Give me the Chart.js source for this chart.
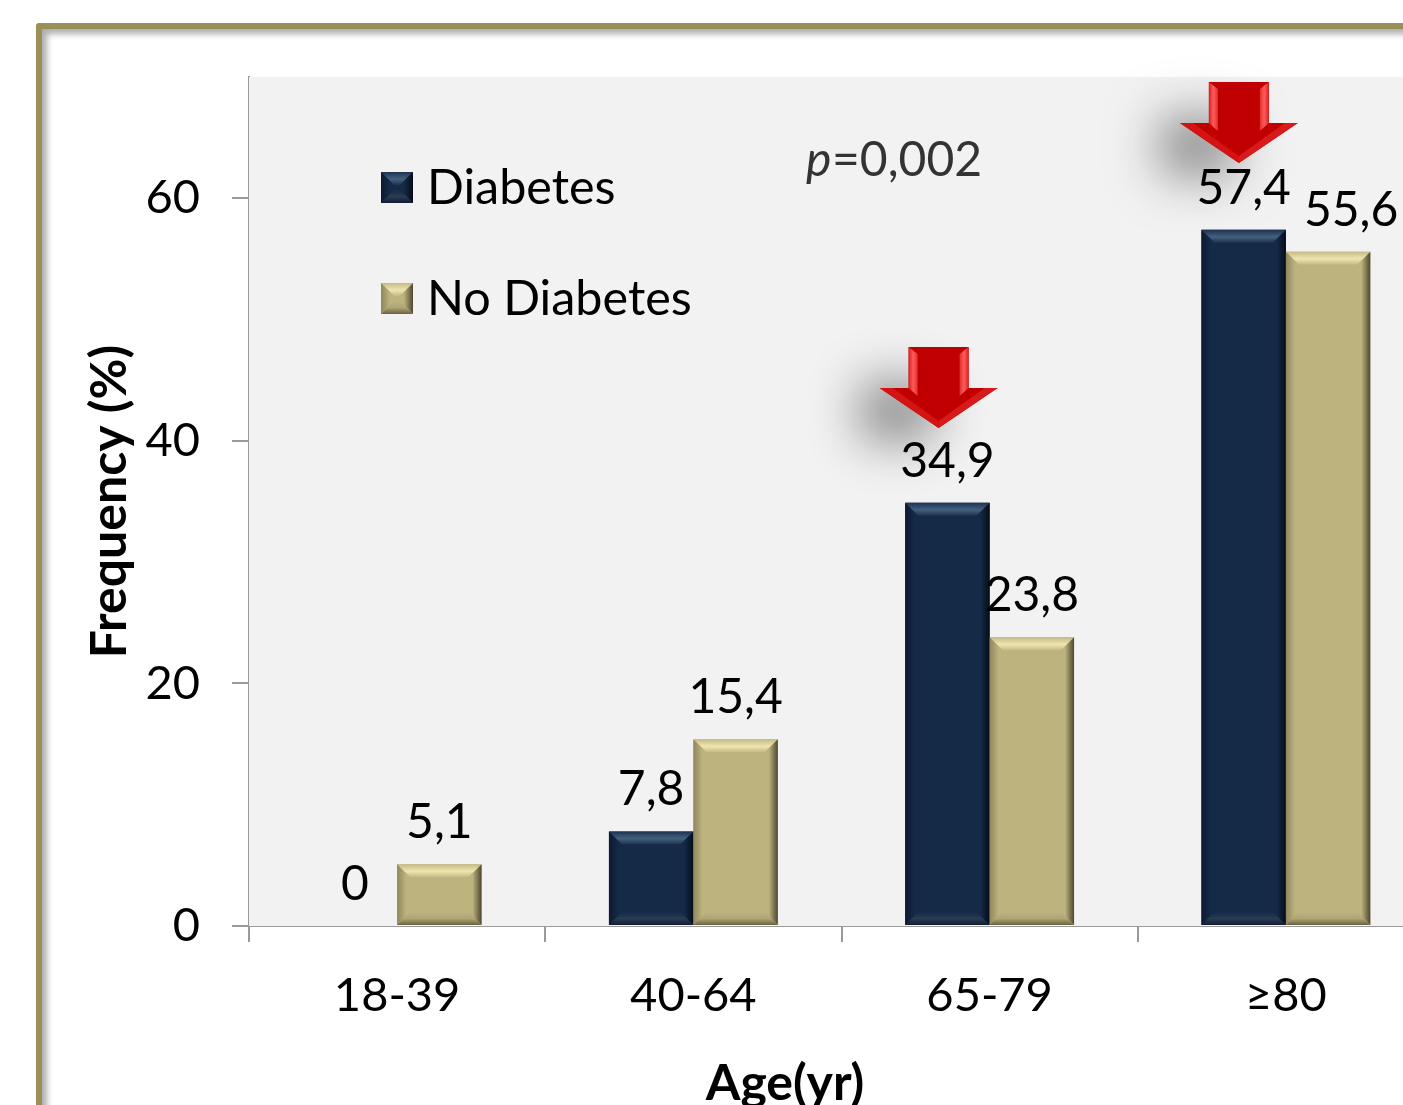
<!DOCTYPE html>
<html>
<head>
<meta charset="utf-8">
<script src="https://cdn.jsdelivr.net/npm/chart.js@4"></script>
<style>
  html, body { margin: 0; padding: 0; background: #fff; overflow: hidden; height: 100%; }
  #frame {
    position: absolute; left: 36px; top: 23px; width: 1500px; height: 1300px;
    border: 6px solid #9a8f57; border-radius: 3px; background: #fff;
    box-shadow: inset 7px 7px 6px -2px rgba(0,0,0,.32);
  }
  #myChart { position: absolute; left: 0; top: 0; }
</style>
</head>
<body>
<div id="frame"></div>
<canvas id="myChart" width="1500" height="1105"></canvas>
<script>
var ageGroups = ['18-39', '40-64', '65-79', '≥80'];
var diabetes = [0, 7.8, 34.9, 57.4];
var noDiabetes = [5.1, 15.4, 23.8, 55.6];
var yTicks = [0, 20, 40, 60];

// red arrows: which group they sit over and the value their tip points at
var arrowGroups = ['65-79', '≥80'];
var arrowTips = [41.05, 62.9];
var arrowShift = [-51, -47];

var pValue = '=0,002';
var FONT = 'Lato';

var navy = { base: '#152a47', top: '#44607f', topEdge: '#1c3350', left: '#0c1a2e', right: '#050c18', bottom: '#2a3b52', bottomEdge: '#101e33' };
var tan = { base: '#bdb37f', top: '#eee5ae', topEdge: '#c4ba88', left: '#8f875c', right: '#4d4830', bottom: '#b0a674', bottomEdge: '#6a6343' };

function poly(ctx, pts, fill) {
  ctx.beginPath();
  ctx.moveTo(pts[0][0], pts[0][1]);
  for (var i = 1; i < pts.length; i++) ctx.lineTo(pts[i][0], pts[i][1]);
  ctx.closePath();
  ctx.fillStyle = fill;
  ctx.fill();
}

// four sloped facets round a flat face
function bevel(ctx, x, y, w, h, b, c) {
  var bb = Math.min(b, h / 2);
  var g;
  g = ctx.createLinearGradient(0, y, 0, y + bb);
  g.addColorStop(0, c.topEdge); g.addColorStop(0.55, c.top); g.addColorStop(1, c.topEdge);
  poly(ctx, [[x, y], [x + w, y], [x + w - bb, y + bb], [x + bb, y + bb]], g);
  g = ctx.createLinearGradient(x, 0, x + bb, 0);
  g.addColorStop(0, c.left); g.addColorStop(0.7, c.base);
  poly(ctx, [[x, y], [x + bb, y + bb], [x + bb, y + h - bb], [x, y + h]], g);
  g = ctx.createLinearGradient(x + w, 0, x + w - bb, 0);
  g.addColorStop(0, c.right); g.addColorStop(0.7, c.base);
  poly(ctx, [[x + w, y], [x + w - bb, y + bb], [x + w - bb, y + h - bb], [x + w, y + h]], g);
  g = ctx.createLinearGradient(0, y + h, 0, y + h - bb);
  g.addColorStop(0, c.bottomEdge); g.addColorStop(0.5, c.bottom); g.addColorStop(1, c.base);
  poly(ctx, [[x, y + h], [x + w, y + h], [x + w - bb, y + h - bb], [x + bb, y + h - bb]], g);
}

function drawArrow(ctx, tx, ty) {
  var shape = [[-30, -81], [30, -81], [30, -40], [59, -40], [0, 0], [-59, -40], [-30, -40]];
  var pts = shape.map(function (p) { return [tx + p[0], ty + p[1]]; });
  ctx.save();
  // soft shadow falling to the left; the caster itself stays off the canvas
  ctx.shadowColor = 'rgba(0,0,0,0.45)';
  ctx.shadowBlur = 50;
  ctx.shadowOffsetX = 3000;
  poly(ctx, [[tx - 3078, ty - 46], [tx - 3005, ty - 46], [tx - 3005, ty + 12], [tx - 3078, ty + 12]], '#000');
  ctx.restore();
  poly(ctx, pts, '#c00000');
  // lit edges of the shaft and the head
  var g = ctx.createLinearGradient(tx - 30, 0, tx - 21, 0);
  g.addColorStop(0, '#d82020'); g.addColorStop(0.5, '#ff5a5a'); g.addColorStop(1, '#e03030');
  poly(ctx, [[tx - 30, ty - 81], [tx - 21, ty - 74], [tx - 21, ty - 32], [tx - 30, ty - 40]], g);
  g = ctx.createLinearGradient(tx + 30, 0, tx + 21, 0);
  g.addColorStop(0, '#d82020'); g.addColorStop(0.5, '#ff5a5a'); g.addColorStop(1, '#e03030');
  poly(ctx, [[tx + 30, ty - 81], [tx + 21, ty - 74], [tx + 21, ty - 32], [tx + 30, ty - 40]], g);
  poly(ctx, [[tx - 59, ty - 40], [tx, ty], [tx, ty - 7], [tx - 46, ty - 40]], '#d41414');
  poly(ctx, [[tx + 59, ty - 40], [tx, ty], [tx, ty - 7], [tx + 46, ty - 40]], '#d81a1a');
}

var decorPlugin = {
  id: 'decor',
  beforeDatasetsDraw: function (chart) {
    var a = chart.chartArea, ctx = chart.ctx;
    ctx.save();
    ctx.fillStyle = '#f2f2f2';
    ctx.fillRect(a.left, a.top, a.right - a.left, a.bottom - a.top);
    ctx.restore();
  },
  afterDatasetsDraw: function (chart) {
    var ctx = chart.ctx;
    var palettes = [navy, tan];
    ctx.save();

    arrowGroups.forEach(function (g, i) {
      var x = chart.scales.x.getPixelForValue(ageGroups.indexOf(g));
      drawArrow(ctx, x + arrowShift[i], chart.scales.y.getPixelForValue(arrowTips[i]));
    });

    chart.data.datasets.forEach(function (ds, di) {
      chart.getDatasetMeta(di).data.forEach(function (bar, i) {
        var left = bar.x - bar.width / 2;
        if (ds.data[i] > 0) bevel(ctx, left, bar.y, bar.width, bar.base - bar.y, 13, palettes[di]);

        // value label above the bar; 55,6 sits to the right of its bar
        var shift = (di === 1 && i === 3) ? 23 : 0;
        ctx.font = '48px ' + FONT;
        ctx.fillStyle = '#000';
        ctx.textAlign = 'center';
        ctx.textBaseline = 'alphabetic';
        ctx.fillText(String(ds.data[i]).replace('.', ','), bar.x + shift, bar.y - 26);
      });
    });

    // legend inside the plot
    var rows = [187, 298];
    chart.data.datasets.forEach(function (ds, di) {
      ctx.fillStyle = ds.backgroundColor;
      ctx.fillRect(381, rows[di] - 15, 32, 31);
      bevel(ctx, 381, rows[di] - 15, 32, 31, 13, palettes[di]);
      ctx.font = '48.5px ' + FONT;
      ctx.fillStyle = '#000';
      ctx.textAlign = 'left';
      ctx.textBaseline = 'middle';
      ctx.fillText(ds.label, 427, rows[di] + 1);
    });

    // p value
    ctx.fillStyle = '#333';
    ctx.textBaseline = 'alphabetic';
    ctx.textAlign = 'left';
    ctx.font = 'italic 48px ' + FONT;
    ctx.fillText('p', 806, 176);
    ctx.font = '48px ' + FONT;
    ctx.fillText(pValue, 832, 176);

    // x axis title
    ctx.font = 'bold 50px ' + FONT;
    ctx.fillStyle = '#000';
    ctx.textAlign = 'center';
    ctx.fillText('Age(yr)', 785, 1100);
    ctx.restore();
  }
};

var ctx = document.getElementById('myChart').getContext('2d');
var myChart = new Chart(ctx, {
  type: 'bar',
  plugins: [decorPlugin],
  data: {
    labels: ageGroups,
    datasets: [
      { label: 'Diabetes', data: diabetes, backgroundColor: '#152a47', borderWidth: 0 },
      { label: 'No Diabetes', data: noDiabetes, backgroundColor: '#bdb37f', borderWidth: 0 }
    ]
  },
  options: {
    responsive: false,
    animation: false,
    categoryPercentage: 0.57,
    barPercentage: 1,
    layout: { padding: { top: 77, right: 66, left: 0, bottom: 0 } },
    plugins: { legend: { display: false }, tooltip: { enabled: false } },
    scales: {
      x: {
        afterFit: function (s) { s.height = 179; },
        grid: { drawOnChartArea: false, color: '#9a9a9a', tickLength: 16, lineWidth: 2 },
        border: { color: '#9a9a9a', width: 2 },
        ticks: { color: '#000', font: { family: FONT, size: 47 }, padding: 26, maxRotation: 0 }
      },
      y: {
        min: 0,
        max: 70,
        afterFit: function (s) { s.width = 249; },
        afterBuildTicks: function (s) { s.ticks = yTicks.map(function (v) { return { value: v }; }); },
        grid: { drawOnChartArea: false, color: '#9a9a9a', tickLength: 17, lineWidth: 2 },
        border: { color: '#9a9a9a', width: 2 },
        ticks: { color: '#000', font: { family: FONT, size: 47 }, padding: 32 },
        title: { display: true, text: 'Frequency (%)', color: '#000', font: { family: FONT, size: 50, weight: 'bold' }, padding: { top: 80, bottom: 0 } }
      }
    }
  }
});
</script>
</body>
</html>
